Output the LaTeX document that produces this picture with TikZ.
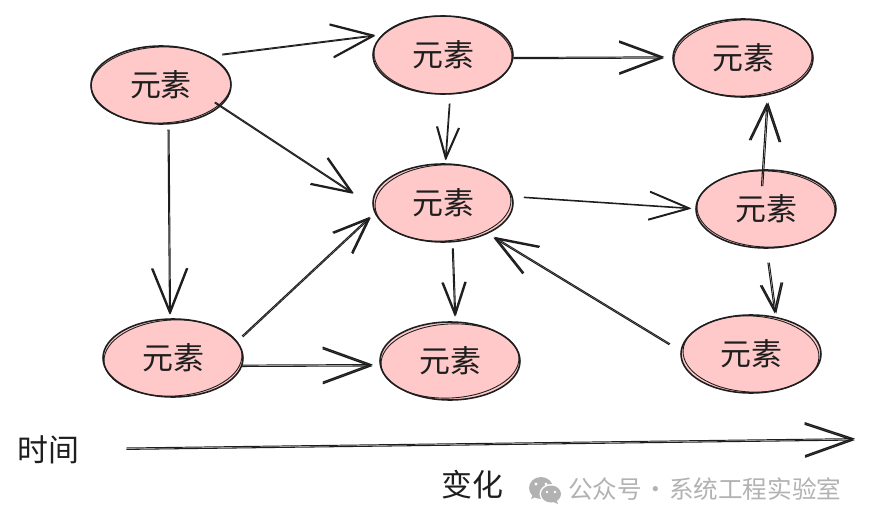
\documentclass[tikz,border=0pt]{standalone}
\usepackage{fontspec}
\newfontfamily\cjk{Noto Sans CJK SC}
\usetikzlibrary{shapes.geometric, arrows.meta, positioning, calc}
\definecolor{elempink}{RGB}{255, 201, 201}
\definecolor{inkblack}{RGB}{30, 30, 30}
\definecolor{markgray}{RGB}{178, 178, 178}

\begin{document}
\begin{tikzpicture}[
  x=0.02cm, y=-0.02cm,
  elem/.style={ellipse, draw=inkblack, fill=elempink, line width=0.9pt, minimum width=2.8cm, minimum height=1.56cm, inner sep=0pt, font=\cjk\fontsize{17.6}{20}\selectfont, text=inkblack},
  rough/.style={draw=inkblack, line width=0.5pt},
  arr/.style n args={4}{draw=inkblack, line width=0.6pt, -{Straight Barb[length=#1, width=#2, line width=0.8pt]}, postaction={draw, line width=0.55pt, transform canvas={xshift=#3, yshift=#4}}},
  lbl/.style={font=\cjk\fontsize{17.6}{20}\selectfont, text=inkblack, inner sep=0pt}
]
  \useasboundingbox (0, 0) rectangle (870, 524);
  \fill[white] (0, 0) rectangle (870, 524);

  % elements
  \node[elem] (topleft) at (161, 85) {元素};
  \node[elem] (topmid) at (443, 55) {元素};
  \node[elem] (topright) at (743, 58) {元素};
  \node[elem] (center) at (443, 203) {元素};
  \node[elem] (right) at (766, 209) {元素};
  \node[elem] (botleft) at (173, 358) {元素};
  \node[elem] (botmid) at (450, 361) {元素};
  \node[elem] (botright) at (751, 354) {元素};

  % second pencil stroke
  \draw[rough, rotate around={2:(topleft)}] (topleft) ellipse [x radius=70, y radius=38];
  \draw[rough, rotate around={-2:(topmid)}] (topmid) ellipse [x radius=69, y radius=39];
  \draw[rough, rotate around={2:(topright)}] (topright) ellipse [x radius=69, y radius=38];
  \draw[rough, rotate around={3:(center)}] (center) ellipse [x radius=68, y radius=38];
  \draw[rough, rotate around={-2:(right)}] (right) ellipse [x radius=69, y radius=38];
  \draw[rough, rotate around={3:(botleft)}] (botleft) ellipse [x radius=69, y radius=38];
  \draw[rough, rotate around={3:(botmid)}] (botmid) ellipse [x radius=69, y radius=37];
  \draw[rough, rotate around={-3:(botright)}] (botright) ellipse [x radius=68, y radius=38];

  % arrows
  \draw[arr={0.84cm}{0.66cm}{0pt}{0.5pt}, shorten <=0.24cm, shorten >=0.13cm] (topleft.30) -- (topmid.162);
  \draw[arr={0.78cm}{0.62cm}{0.4pt}{0.4pt}, shorten <=-0.14cm, shorten >=0.47cm] (topleft.-20) -- (center.183);
  \draw[arr={0.88cm}{0.7cm}{0.6pt}{0pt}, shorten <=0.1cm, shorten >=0.08cm] (topleft.-80) -- (botleft.95);
  \draw[arr={0.86cm}{0.64cm}{0pt}{0.7pt}, shorten >=0.16cm] (topmid.-3) -- (topright.180);
  \draw[arr={0.62cm}{0.44cm}{0.4pt}{0pt}, shorten <=0.18cm, shorten >=0.06cm] (topmid.-80) -- (center.87);
  \draw[arr={0.74cm}{0.6cm}{0.8pt}{0pt}, shorten <=-0.34cm, shorten >=0.14cm] (right.95) -- (topright.-57);
  \draw[arr={0.8cm}{0.56cm}{0pt}{0.3pt}, shorten <=0.22cm, shorten >=0.08cm] (center.5) -- (right.180);
  \draw[arr={0.56cm}{0.42cm}{0.8pt}{0pt}, shorten <=0.28cm, shorten >=0.06cm] (right.-90) -- (botright.57);
  \draw[arr={0.64cm}{0.46cm}{0.6pt}{0pt}, shorten <=0.12cm, shorten >=0.1cm] (center.-77) -- (botmid.83);
  \draw[arr={0.72cm}{0.56cm}{0.5pt}{-0.5pt}, shorten <=0.14cm, shorten >=0.12cm] (botleft.15) -- (center.188);
  \draw[arr={0.96cm}{0.7cm}{0pt}{0.8pt}, shorten >=0.14cm] (botleft.-7) -- (botmid.184.5);
  \draw[arr={0.84cm}{0.62cm}{0.5pt}{0.5pt}, shorten <=0.26cm, shorten >=0.14cm] (botright.178) -- (center.-35);

  % time axis
  \node[lbl] (timelbl) at (48, 450) {时间};
  \node[lbl] (changelbl) at (472, 485) {变化};
  \coordinate (timeend) at (855, 440);
  \draw[arr={0.96cm}{0.66cm}{0pt}{0.8pt}, shorten <=0.94cm] (timelbl.east) -- (timeend);

  % watermark
  \fill[markgray] (541, 488) ellipse [x radius=12, y radius=11];
  \fill[markgray] (533, 494) -- (531, 499) -- (538, 496) -- cycle;
  \fill[white] (551, 494) ellipse [x radius=11.5, y radius=10];
  \fill[markgray] (551, 494) ellipse [x radius=10, y radius=8.5];
  \fill[markgray] (556, 499) -- (558, 504) -- (551, 501) -- cycle;
  \fill[white] (536, 484) circle (1.7) (546, 484) circle (1.7) (547, 492) circle (1.4) (555, 492) circle (1.4);
  \node[font=\cjk\fontsize{14}{16}\selectfont, text=markgray, inner sep=0pt, anchor=west] (wmark) at (568, 489) {公众号\hspace{0.7pt}·\hspace{0.7pt}系统工程实验室};
\end{tikzpicture}
\end{document}
